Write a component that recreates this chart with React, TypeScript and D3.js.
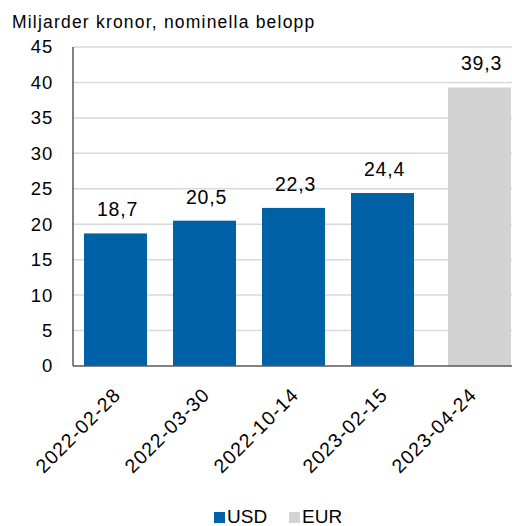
import React, {useEffect, useRef} from "react";
import * as d3 from "d3";

const dates = ["2022-02-28", "2022-03-30", "2022-10-14", "2023-02-15", "2023-04-24"];
const values = [18.7, 20.5, 22.3, 24.4, 39.3];
const currency = ["USD", "USD", "USD", "USD", "EUR"];
const yTicks = [0, 5, 10, 15, 20, 25, 30, 35, 40, 45];
const legendItems = ["USD", "EUR"];

const colors: Record<string, string> = {USD: "#0061a6", EUR: "#d3d3d3"};

function App() {
    const node = useRef<SVGSVGElement>(null);

    useEffect(() => {
        const width = 512;
        const height = 526;
        const left = 73;
        const top = 47;
        const bottom = 366;
        const barW = 63;
        const font = "'Liberation Sans', Arial, sans-serif";

        const svg = d3.select(node.current);
        svg.selectAll("*").remove();
        svg.attr("width", width).attr("height", height).style("font-family", font);

        const y = d3.scaleLinear().domain([0, 45]).range([bottom, top]);
        // category bands, labels sit at band centre
        const x0 = d3.scaleBand<string>()
            .domain(dates)
            .range([77.5, 77.5 + 89 * 5])
            .padding(0);
        // series offset within a category (bars overlap like excel groups)
        const x1 = d3.scalePoint<string>()
            .domain(legendItems)
            .range([-6.5, 1.5]);
        const cx = (i: number) => x0(dates[i])! + x0.bandwidth() / 2;
        const barCx = (i: number) => cx(i) + x1(currency[i])!;

        svg.append("text")
            .attr("x", 12).attr("y", 28)
            .attr("font-size", 17.5)
            .attr("letter-spacing", 1.2)
            .attr("fill", "#000")
            .text("Miljarder kronor, nominella belopp");

        // grid
        svg.append("g").selectAll("line")
            .data(yTicks.filter(d => d > 0))
            .enter().append("line")
            .attr("x1", left).attr("x2", width)
            .attr("y1", d => y(d)).attr("y2", d => y(d))
            .attr("stroke", "#d9d9d9").attr("stroke-width", 1.5);

        svg.append("g").selectAll("text")
            .data(yTicks)
            .enter().append("text")
            .attr("x", 53).attr("y", d => y(d))
            .attr("dy", "0.35em")
            .attr("text-anchor", "end")
            .attr("font-size", 18.5)
            .attr("letter-spacing", 0.8)
            .text(d => d);

        svg.append("g").selectAll("rect")
            .data(values)
            .enter().append("rect")
            .attr("x", (d, i) => barCx(i) - barW / 2)
            .attr("width", barW)
            .attr("y", d => y(d))
            .attr("height", d => bottom - y(d))
            .attr("fill", (d, i) => colors[currency[i]]);

        svg.append("g").selectAll("text")
            .data(values)
            .enter().append("text")
            .attr("x", (d, i) => barCx(i) + 2)
            .attr("y", d => y(d) - 17)
            .attr("text-anchor", "middle")
            .attr("font-size", 19.5)
            .attr("letter-spacing", 0.8)
            .text(d => d.toFixed(1).replace(".", ","));

        // axes lines
        svg.append("line")
            .attr("x1", left).attr("x2", left)
            .attr("y1", top).attr("y2", bottom)
            .attr("stroke", "#595959").attr("stroke-width", 1.5);
        svg.append("line")
            .attr("x1", left).attr("x2", width)
            .attr("y1", bottom).attr("y2", bottom)
            .attr("stroke", "#595959").attr("stroke-width", 1.5);

        svg.append("g").selectAll("text")
            .data(dates)
            .enter().append("text")
            .attr("transform", (d, i) => `translate(${cx(i)},${bottom + 30}) rotate(-45)`)
            .attr("text-anchor", "end")
            .attr("font-size", 19.5)
            .attr("letter-spacing", 1.1)
            .text(d => d);

        const legend = svg.append("g");
        legendItems.forEach((k, i) => {
            const lx = 214 + i * 75;
            legend.append("rect")
                .attr("x", lx).attr("y", 512)
                .attr("width", 11).attr("height", 11)
                .attr("fill", colors[k]);
            legend.append("text")
                .attr("x", lx + 13).attr("y", 523)
                .attr("font-size", 19)
                .text(k);
        });
    }, []);

    return <svg ref={node} style={{position: "absolute", left: 0, top: 0}}></svg>;
}

export default App;
